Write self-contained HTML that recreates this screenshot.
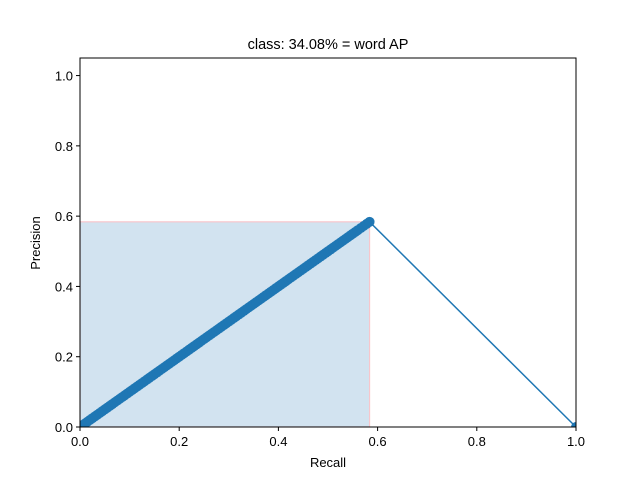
<!DOCTYPE html>
<html><head><meta charset="utf-8"><style>
body{margin:0;background:#fff}
svg{display:block;font-family:"Liberation Sans","DejaVu Sans",sans-serif}
</style></head><body>
<svg id="chart" width="640" height="480">
<rect width="640" height="480" fill="#fff"/>
<defs><clipPath id="clip"><rect x="80" y="58" width="496" height="369"/></clipPath></defs>
<g id="plot" clip-path="url(#clip)"></g>
<rect x="80" y="58" width="496" height="369" fill="none" stroke="#000" stroke-width="1"/>
<g id="axes"></g>
<text x="328" y="49" text-anchor="middle" font-size="14.5">class: 34.08% = word AP</text>
<text x="328" y="467" text-anchor="middle" font-size="13">Recall</text>
<text transform="translate(40,243) rotate(-90)" text-anchor="middle" font-size="13">Precision</text>
</svg>
<script>
const recall=[0,0.02,0.04,0.06,0.08,0.1,0.12,0.14,0.16,0.18,0.2,0.22,0.24,0.26,0.28,0.3,0.32,0.34,0.36,0.38,0.4,0.42,0.44,0.46,0.48,0.5,0.52,0.54,0.56,0.5838,1.0];
const precision=[0,0.02,0.04,0.06,0.08,0.1,0.12,0.14,0.16,0.18,0.2,0.22,0.24,0.26,0.28,0.3,0.32,0.34,0.36,0.38,0.4,0.42,0.44,0.46,0.48,0.5,0.52,0.54,0.56,0.5838,0.0];
const apRecall=0.5838, apPrecision=0.5838;
const xTicks=[0,0.2,0.4,0.6,0.8,1.0];
const yTicks=[0,0.2,0.4,0.6,0.8,1.0];
const xLabels=["0.0","0.2","0.4","0.6","0.8","1.0"];
const yLabels=["0.0","0.2","0.4","0.6","0.8","1.0"];
const NS="http://www.w3.org/2000/svg";
const X=v=>80+v*496, Y=v=>427-v*(369/1.05);
function mk(t,a,p){const e=document.createElementNS(NS,t);for(const k in a)e.setAttribute(k,a[k]);p.appendChild(e);return e;}
const plot=document.getElementById('plot'), axes=document.getElementById('axes');
const r=mk('rect',{x:X(0),y:Y(apPrecision),width:X(apRecall)-X(0),height:Y(0)-Y(apPrecision),fill:'rgb(210,227,240)',stroke:'#f7c6cc','stroke-width':1.2},plot);


const pl=mk('polyline',{points:recall.map((v,i)=>X(v)+','+Y(precision[i])).join(' '),fill:'none',stroke:'#1f77b4','stroke-width':1.5},plot);


for(let i=0;i<recall.length-2;i++){
  const a=recall[i],b=recall[i+1],pa=precision[i],pb=precision[i+1];
  for(let s=0;s<4;s++){const t=s/4;const c=mk('circle',{cx:X(a+(b-a)*t),cy:Y(pa+(pb-pa)*t),r:5,fill:'#1f77b4'},plot);
  
  }
}
{const i=recall.length-2;const c=mk('circle',{cx:X(recall[i]),cy:Y(precision[i]),r:5,fill:'#1f77b4'},plot);


const c2=mk('circle',{cx:X(recall[i+1]),cy:Y(precision[i+1]),r:5,fill:'#1f77b4'},plot);

}
xTicks.forEach((v,i)=>{mk('line',{x1:X(v),x2:X(v),y1:427,y2:431,stroke:'#000'},axes);
const t=mk('text',{x:X(v),y:446,'text-anchor':'middle','font-size':13},axes);t.textContent=xLabels[i];

});
yTicks.forEach((v,i)=>{mk('line',{x1:76,x2:80,y1:Y(v),y2:Y(v),stroke:'#000'},axes);
const t=mk('text',{x:73,y:Y(v)+5,'text-anchor':'end','font-size':13},axes);t.textContent=yLabels[i];

});
</script>
</body></html>
